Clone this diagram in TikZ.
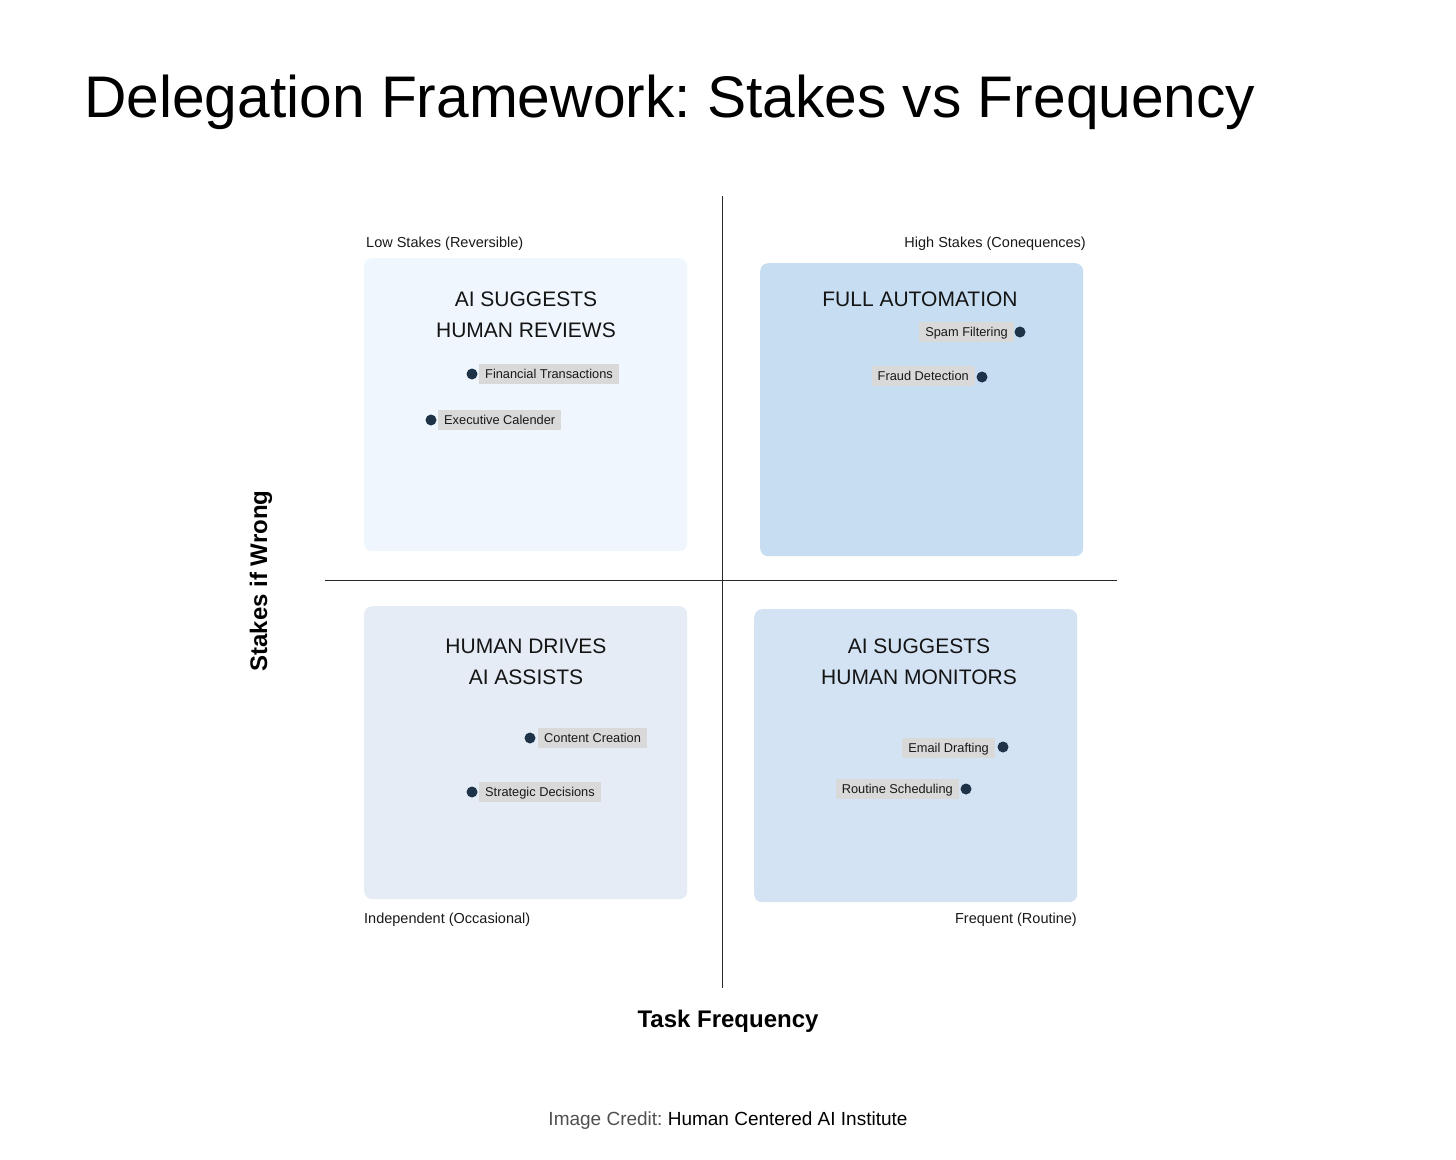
\documentclass[tikz,border=0pt]{standalone}
\usepackage{fontspec}
\setmainfont{Liberation Sans}
\frenchspacing
\definecolor{qa}{RGB}{239,246,253}
\definecolor{qb}{RGB}{198,221,242}
\definecolor{qc}{RGB}{229,236,245}
\definecolor{qd}{RGB}{211,227,243}
\definecolor{tagbg}{RGB}{217,217,217}
\definecolor{dotc}{RGB}{30,50,72}
\definecolor{axisc}{RGB}{40,40,40}
\definecolor{credc}{RGB}{80,80,80}
\begin{document}
\frenchspacing
\begin{tikzpicture}[x=1pt,y=-1pt,
  quad/.style={rounded corners=8pt, inner sep=0pt, minimum width=323pt, minimum height=293pt, anchor=north west},
  qtitle/.style={font=\fontsize{21}{25}\selectfont, anchor=base, inner sep=0pt, text=black!92},
  tag/.style={fill=tagbg, font=\fontsize{12.8}{14}\selectfont, inner xsep=6pt, inner ysep=5.5pt, text height=9pt, text depth=0pt, text=black!90},
  dot/.style={circle, fill=dotc, inner sep=0pt, minimum size=11pt},
  small/.style={font=\fontsize{14.5}{17}\selectfont, inner sep=0pt, text=black!90},
  axlabel/.style={font=\bfseries\fontsize{24}{28}\selectfont, inner sep=0pt, anchor=base}]
\fill[white] (0,0) rectangle (1456,1159);
\useasboundingbox (0,0) rectangle (1456,1159);

% title
\node[font=\fontsize{58.7}{70}\selectfont, anchor=base west, inner sep=0pt] (title) at (84,117) {Delegation Framework: Stakes vs Frequency};

% quadrant boxes
\node[quad, fill=qa] (q1) at (364,258) {};
\node[quad, fill=qb] (q2) at (760,263) {};
\node[quad, fill=qc] (q3) at (364,606) {};
\node[quad, fill=qd] (q4) at (754,609) {};

% axes
\coordinate (vt) at (722.5,196);
\coordinate (vb) at (722.5,988);
\coordinate (hl) at (325,580.5);
\coordinate (hr) at (1117,580.5);
\draw[axisc, line width=1.2pt] (vt) -- (vb);
\draw[axisc, line width=1.2pt] (hl) -- (hr);

% corner labels
\node[small, anchor=base west] (lowst) at (366,247) {Low Stakes (Reversible)};
\node[small, anchor=base east] (highst) at (1086,247) {High Stakes (Conequences)};
\node[small, anchor=base west] (indep) at (364,923) {Independent (Occasional)};
\node[small, anchor=base east] (freq) at (1077,923) {Frequent (Routine)};

% quadrant titles
\node[qtitle] (t1a) at (526,306.5) {AI SUGGESTS};
\node[qtitle] (t1b) at (526,337.5) {HUMAN REVIEWS};
\node[qtitle] (t2a) at (920,306.5) {FULL AUTOMATION};
\node[qtitle] (t3a) at (526,653.5) {HUMAN DRIVES};
\node[qtitle] (t3b) at (526,684.5) {AI ASSISTS};
\node[qtitle] (t4a) at (919,653.5) {AI SUGGESTS};
\node[qtitle] (t4b) at (919,684.5) {HUMAN MONITORS};

% items: top-left
\node[dot] (d1) at (472,374) {};
\node[tag, anchor=west] (l1) at (479,374) {Financial Transactions};
\node[dot] (d2) at (431,420) {};
\node[tag, anchor=west] (l2) at (438,419.5) {Executive Calender};
% top-right
\node[dot] (d3) at (1020,332) {};
\node[tag, anchor=east] (l3) at (1014,332) {Spam Filtering};
\node[dot] (d4) at (982,377) {};
\node[tag, anchor=east] (l4) at (975,376) {Fraud Detection};
% bottom-left
\node[dot] (d5) at (530,738) {};
\node[tag, anchor=west] (l5) at (538,737.5) {Content Creation};
\node[dot] (d6) at (472,792) {};
\node[tag, anchor=west] (l6) at (479,791.5) {Strategic Decisions};
% bottom-right
\node[dot] (d7) at (1003,747) {};
\node[tag, anchor=east] (l7) at (995,747.5) {Email Drafting};
\node[dot] (d8) at (966,789) {};
\node[tag, anchor=east] (l8) at (959,789) {Routine Scheduling};

% axis titles
\node[axlabel] (xlab) at (728,1027) {Task Frequency};
\node[axlabel, rotate=90] (ylab) at (267,581) {Stakes if Wrong};

% credit
\node[font=\fontsize{19}{22}\selectfont, anchor=base, inner sep=0pt] (credit) at (728,1125.5) {{\color{credc}Image Credit:} Human Centered AI Institute};
\end{tikzpicture}
\end{document}
